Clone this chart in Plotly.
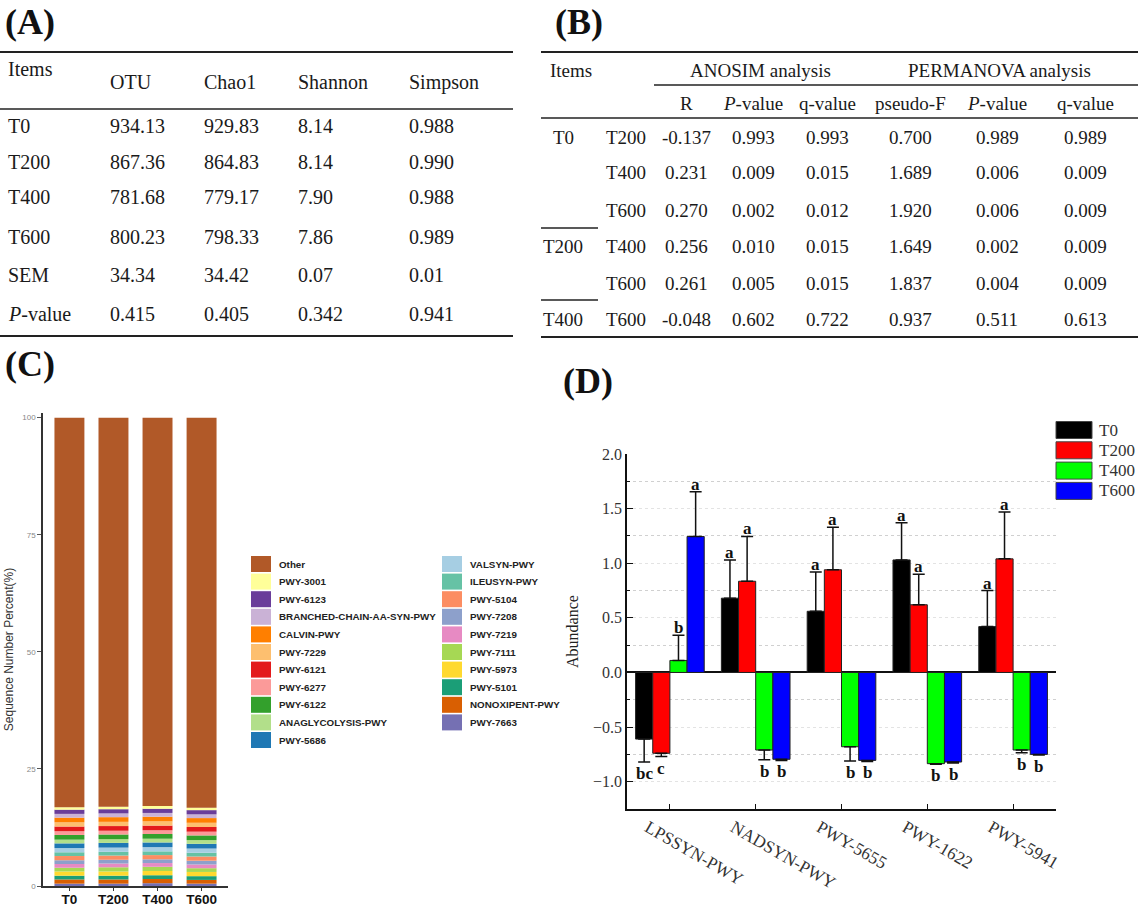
import plotly.graph_objects as go
import numpy as np

W, H = 1142, 908
SERIF = "Liberation Serif"
SANS = "Liberation Sans"

# ---------------- Panel A data ----------------
A_cols = ["OTU", "Chao1", "Shannon", "Simpson"]
A_rows = ["T0", "T200", "T400", "T600", "SEM", "<i>P</i>-value"]
A_OTU = ["934.13", "867.36", "781.68", "800.23", "34.34", "0.415"]
A_Chao1 = ["929.83", "864.83", "779.17", "798.33", "34.42", "0.405"]
A_Shannon = ["8.14", "8.14", "7.90", "7.86", "0.07", "0.342"]
A_Simpson = ["0.988", "0.990", "0.988", "0.989", "0.01", "0.941"]

# ---------------- Panel B data ----------------
B_sub = ["R", "<i>P</i>-value", "q-value", "pseudo-F", "<i>P</i>-value", "q-value"]
B_g1 = ["T0", "", "", "T200", "", "T400"]
B_g2 = ["T200", "T400", "T600", "T400", "T600", "T600"]
B_R = ["-0.137", "0.231", "0.270", "0.256", "0.261", "-0.048"]
B_anosim_p = ["0.993", "0.009", "0.002", "0.010", "0.005", "0.602"]
B_anosim_q = ["0.993", "0.015", "0.012", "0.015", "0.015", "0.722"]
B_pseudoF = ["0.700", "1.689", "1.920", "1.649", "1.837", "0.937"]
B_perm_p = ["0.989", "0.006", "0.006", "0.002", "0.004", "0.511"]
B_perm_q = ["0.989", "0.009", "0.009", "0.009", "0.009", "0.613"]

# ---------------- Panel C data ----------------
C_samples = ["T0", "T200", "T400", "T600"]
C_paths = ["Other", "PWY-3001", "PWY-6123", "BRANCHED-CHAIN-AA-SYN-PWY", "CALVIN-PWY",
           "PWY-7229", "PWY-6121", "PWY-6277", "PWY-6122", "ANAGLYCOLYSIS-PWY", "PWY-5686",
           "VALSYN-PWY", "ILEUSYN-PWY", "PWY-5104", "PWY-7208", "PWY-7219", "PWY-7111",
           "PWY-5973", "PWY-5101", "NONOXIPENT-PWY", "PWY-7663"]
C_colors = ["#b15928", "#ffff99", "#6a3d9a", "#cab2d6", "#ff7f00", "#fdbf6f", "#e31a1c",
            "#fb9a99", "#33a02c", "#b2df8a", "#1f78b4", "#a6cee3", "#66c2a5", "#fc8d62",
            "#8da0cb", "#e78ac3", "#a6d854", "#ffd92f", "#1b9e77", "#d95f02", "#7570b3"]
C_T0 = [83.2, 0.5, 0.9, 0.8, 1.0, 0.9, 1.0, 0.8, 1.0, 0.8, 1.0, 0.9, 0.8, 0.9, 0.8, 0.8, 0.8, 0.9, 0.8, 0.9, 0.5]
C_T200 = [83.1, 0.5, 0.9, 0.8, 1.0, 0.9, 1.0, 0.8, 1.0, 0.8, 1.0, 0.9, 0.8, 0.9, 0.8, 0.8, 0.9, 0.9, 0.8, 0.9, 0.5]
C_T400 = [82.9, 0.6, 0.9, 0.8, 1.0, 0.9, 1.0, 0.8, 1.0, 0.8, 1.0, 0.9, 0.8, 0.9, 0.8, 0.8, 0.9, 0.9, 0.8, 0.9, 0.6]
C_T600 = [83.3, 0.5, 0.9, 0.8, 1.0, 0.9, 1.0, 0.8, 1.0, 0.8, 1.0, 0.9, 0.8, 0.9, 0.8, 0.8, 0.8, 0.9, 0.8, 0.8, 0.5]

# ---------------- Panel D data ----------------
D_paths = ["LPSSYN-PWY", "NADSYN-PWY", "PWY-5655", "PWY-1622", "PWY-5941"]
D_groups = ["T0", "T200", "T400", "T600"]
D_colors = ["#000000", "#ff0000", "#00ff00", "#0000ff"]
D_T0 = [-0.61, 0.68, 0.56, 1.03, 0.42]
D_T200 = [-0.74, 0.835, 0.94, 0.62, 1.04]
D_T400 = [0.11, -0.71, -0.68, -0.835, -0.71]
D_T600 = [1.245, -0.795, -0.805, -0.82, -0.75]
D_T0_err = [0.21, 0.35, 0.36, 0.34, 0.33]
D_T200_err = [0.03, 0.41, 0.39, 0.28, 0.43]
D_T400_err = [0.23, 0.09, 0.13, 0.005, 0.025]
D_T600_err = [0.41, 0.01, 0.01, 0.01, 0.005]
D_T0_sig = ["bc", "a", "a", "a", "a"]
D_T200_sig = ["c", "a", "a", "a", "a"]
D_T400_sig = ["b", "b", "b", "b", "b"]
D_T600_sig = ["a", "b", "b", "b", "b"]

annotations = []
shapes = []


def px(x):
    return x / W


def py(y):
    return 1 - y / H


def txt(x, y, s, size, anchor="left", family=SERIF, color="#1a1a1a", weight="normal"):
    annotations.append(dict(x=px(x), y=py(y), xref="paper", yref="paper", text=s,
                            showarrow=False, xanchor=anchor, yanchor="middle",
                            font=dict(family=family, size=size, color=color, weight=weight)))


def hline(x0, x1, y, w=1.5, color="#222"):
    shapes.append(dict(type="line", xref="paper", yref="paper", x0=px(x0), x1=px(x1),
                       y0=py(y), y1=py(y), line=dict(color=color, width=w)))


# ---------------- Panel A table ----------------
txt(3, 22, "(A)", 36, weight="bold", color="#111")
hline(0, 513, 52, 2.2)
hline(0, 513, 109, 1.3)
hline(0, 513, 336, 2.2)
txt(6, 69, "Items", 20)
A_colx = [108, 202, 296, 407]
for cx, name in zip(A_colx, A_cols):
    txt(cx, 82, name, 20)
A_rowy = [126, 162, 197, 237, 275, 314]
for ry, rname, a, b, c, d in zip(A_rowy, A_rows, A_OTU, A_Chao1, A_Shannon, A_Simpson):
    txt(6, ry, rname, 20)
    for cx, v in zip(A_colx, [a, b, c, d]):
        txt(cx, ry, v, 20)

# ---------------- Panel B table ----------------
txt(553, 22, "(B)", 36, weight="bold", color="#111")
hline(541, 1138, 52, 2.2)
hline(654, 1138, 85, 1.3)
hline(541, 1138, 118, 1.3)
hline(541, 1138, 337, 2.2)
hline(541, 598, 228, 1.3)
hline(541, 598, 300, 1.3)
txt(548, 70, "Items", 19)
txt(760, 70, "ANOSIM analysis", 19, anchor="center")
txt(999, 70, "PERMANOVA analysis", 19, anchor="center")
B_colx = [686, 753, 827, 910, 997, 1085]
for cx, s in zip(B_colx, B_sub):
    txt(cx, 103, s, 19, anchor="center")
B_rowy = [137, 173, 210, 247, 283, 319]
for i, ry in enumerate(B_rowy):
    if B_g1[i]:
        txt(563, ry, B_g1[i], 19, anchor="center")
    txt(604, ry, B_g2[i], 19)
    vals = [B_R[i], B_anosim_p[i], B_anosim_q[i], B_pseudoF[i], B_perm_p[i], B_perm_q[i]]
    for cx, v in zip(B_colx, vals):
        txt(cx, ry, v, 19, anchor="center")

# ---------------- Panel C: stacked bars ----------------
fig = go.Figure()
C_matrix = np.array([C_T0, C_T200, C_T400, C_T600])  # samples x pathways
order = list(range(len(C_paths)))[::-1]  # bottom-most first
base = np.zeros(len(C_samples))
for k in order:
    vals = C_matrix[:, k]
    fig.add_trace(go.Bar(x=C_samples, y=vals, base=base.copy(), name=C_paths[k],
                         marker=dict(color=C_colors[k], line=dict(width=0)),
                         width=0.68, offset=-0.34, offsetgroup="c",
                         xaxis="x", yaxis="y", showlegend=False))
    base = base + vals

txt(3, 364, "(C)", 36, weight="bold", color="#111")

# legend for panel C (two columns)
n_first = 11
for k, (name, col) in enumerate(zip(C_paths, C_colors)):
    if k < n_first:
        sx, row = 251, k
    else:
        sx, row = 442, k - n_first
    cy = 564 + row * 17.6
    shapes.append(dict(type="rect", xref="paper", yref="paper", x0=px(sx), x1=px(sx + 20),
                       y0=py(cy - 8), y1=py(cy + 8), fillcolor=col, line=dict(width=0)))
    txt(sx + 26, cy, name, 9.8, family=SANS, color="#222", weight="bold")

# ---------------- Panel D: grouped bars ----------------
D_vals = [D_T0, D_T200, D_T400, D_T600]
D_errs = [D_T0_err, D_T200_err, D_T400_err, D_T600_err]
D_sigs = [D_T0_sig, D_T200_sig, D_T400_sig, D_T600_sig]
for j, g in enumerate(D_groups):
    v = np.array(D_vals[j])
    e = np.array(D_errs[j])
    up = np.where(v > 0, e, 0)
    dn = np.where(v < 0, e, 0)
    fig.add_trace(go.Bar(x=D_paths, y=v, name=g, xaxis="x2", yaxis="y2",
                         marker=dict(color=D_colors[j], line=dict(color="#222", width=1)),
                         error_y=dict(type="data", symmetric=False, array=up, arrayminus=dn,
                                      color="#111", thickness=1.5, width=6),
                         showlegend=False))
    for i in range(len(D_paths)):
        xpos = i + (j - 1.5) * 0.2
        if v[i] > 0:
            annotations.append(dict(x=xpos, y=v[i] + e[i], xref="x2", yref="y2", text=D_sigs[j][i],
                                    showarrow=False, yanchor="bottom", yshift=-4,
                                    font=dict(family=SERIF, size=17, color="#111", weight="bold")))
        else:
            annotations.append(dict(x=xpos, y=v[i] - e[i], xref="x2", yref="y2", text=D_sigs[j][i],
                                    showarrow=False, yanchor="top", yshift=0,
                                    font=dict(family=SERIF, size=17, color="#111", weight="bold")))

txt(561, 381, "(D)", 36, weight="bold", color="#111")

# legend for panel D
for j, (g, col) in enumerate(zip(D_groups, D_colors)):
    cy = 430 + j * 20.3
    shapes.append(dict(type="rect", xref="paper", yref="paper", x0=px(1056), x1=px(1092),
                       y0=py(cy - 8.5), y1=py(cy + 8.5), fillcolor=col,
                       line=dict(color="#444", width=1)))
    txt(1097, cy, g, 17, color="#333")

fig.update_layout(
    width=W, height=H, margin=dict(l=0, r=0, t=0, b=0, autoexpand=False),
    paper_bgcolor="white", plot_bgcolor="white",
    barmode="group", bargap=0.2, bargroupgap=0,
    annotations=annotations, shapes=shapes,
    xaxis=dict(domain=[px(43), px(228)], anchor="y", range=[-0.6, 3.6], automargin=False,
               showline=True, linecolor="#333", linewidth=1.5, ticks="outside",
               ticklen=3, tickcolor="#333", showgrid=False, zeroline=False,
               ticklabelstandoff=-3,
               tickfont=dict(family=SANS, size=13.5, color="#111", weight="bold")),
    yaxis=dict(domain=[py(886), py(413)], anchor="x", range=[0, 101], automargin=False,
               tickvals=[0, 25, 50, 75, 100], showline=True, linecolor="#333", linewidth=1.5,
               ticks="outside", ticklen=4, tickcolor="#555", showgrid=False, zeroline=False,
               tickfont=dict(family=SANS, size=8, color="#888"),
               title=dict(text="Sequence Number Percent(%)", standoff=6,
                          font=dict(family=SANS, size=12, color="#333"))),
    xaxis2=dict(domain=[px(627), px(1056)], anchor="y2", range=[-0.5, 4.5], automargin=False,
                showline=True, linecolor="#111", linewidth=1.5, ticks="inside", ticklen=5,
                tickcolor="#111", tickangle=30, ticklabelshift=-22, showgrid=False, zeroline=False,
                tickfont=dict(family=SERIF, size=17.5, color="#333")),
    yaxis2=dict(domain=[py(809), py(454)], anchor="x2", range=[-1.25, 2.0], automargin=False,
                tickvals=[-1.0, -0.5, 0.0, 0.5, 1.0, 1.5, 2.0], tickformat=".1f",
                showline=True, linecolor="#111", linewidth=1.5, ticks="inside", ticklen=6,
                tickcolor="#111", showgrid=True, gridcolor="#e3e3e3", griddash="dot",
                zeroline=True, zerolinecolor="#111", zerolinewidth=1.5,
                minor=dict(dtick=0.25, ticks="inside", ticklen=3, tickcolor="#111",
                           showgrid=True, gridcolor="#d0d0d0", griddash="dot"),
                tickfont=dict(family=SERIF, size=16, color="#333"),
                title=dict(text="Abundance", standoff=10,
                           font=dict(family=SERIF, size=16, color="#222"))),
)

fig.write_html("out.html", config={"displayModeBar": False},
               post_script="document.body.style.margin='0';document.body.style.overflow='hidden';")
